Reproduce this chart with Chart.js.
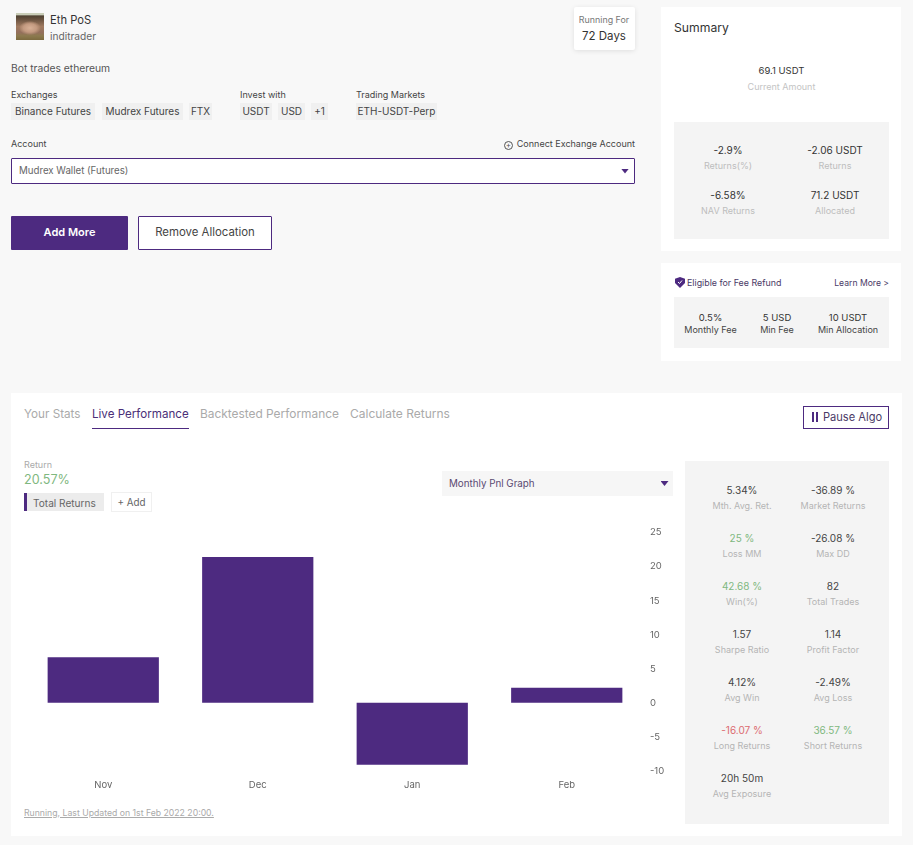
<!DOCTYPE html>
<html><head><meta charset="utf-8">
<script src="https://cdn.jsdelivr.net/npm/chart.js@4"></script>
<style>
html,body{margin:0;padding:0;background:#f8f8f8;width:913px;height:845px;overflow:hidden;font-family:Inter,"Open Sans",sans-serif;color:#333}
.b{position:absolute;box-sizing:border-box}
.t{position:absolute;white-space:nowrap;line-height:14px;height:14px}
canvas{position:absolute}
</style></head><body>
<div id="root"></div>
<canvas id="c" style="left:11px;top:515px;width:670px;height:285px"></canvas>
<script>
const months=["Nov","Dec","Jan","Feb"];
const monthlyPnl=[6.7,21.4,-9.1,2.2];
const yTicks=[25,20,15,10,5,0,-5,-10];
const PURPLE="#4d2a80",GREEN="#7fb87f",RED="#dc6b70";
const root=document.getElementById('root');
function box(x,y,w,h,css){const d=document.createElement('div');d.className='b';d.style.cssText=`left:${x}px;top:${y}px;width:${w}px;height:${h}px;${css||''}`;root.appendChild(d);return d}
function t(x,cy,s,size,color,align,extra){const d=document.createElement('div');d.className='t';d.textContent=s;
 const tr=align==='c'?'translateX(-50%)':align==='r'?'translateX(-100%)':'none';
 d.style.cssText=`left:${x}px;top:${cy-7}px;font-size:${size}px;color:${color||'#333'};transform:${tr};${extra||''}`;root.appendChild(d);return d}
function tri(cx,cy,w,h){box(cx-w/2,cy-h/2,w,h,`background:${PURPLE};clip-path:polygon(0 0,100% 0,50% 100%)`)}
// avatar
box(16,13,28,27,'background:radial-gradient(ellipse 11px 7px at 14px 15px,#d8b096 0,#c39a80 60%,rgba(160,120,95,0) 100%),linear-gradient(180deg,#c9cdb8 0,#c9cdb8 6%,#4f4232 11%,#6a5340 24%,#a07a60 50%,#94705c 72%,#8c7a4e 85%,#7c6a3f 100%)');
t(50,20,'Eth PoS',11.2,'#333');
t(50,35.5,'inditrader',10.2,'#666');
t(11,67.5,'Bot trades ethereum',10.3,'#555');
// running for
box(574,7,61,43,'background:#fff;box-shadow:0 1px 5px rgba(0,0,0,.1);border-radius:2px');
t(604,20,'Running For',8.9,'#777','c');
t(604,36,'72 Days',11.5,'#333','c');
// tags
t(11,95,'Exchanges',9,'#444');t(240,95,'Invest with',9,'#444');t(356,95,'Trading Markets',9,'#444');
[[11,84,'Binance Futures'],[102,81,'Mudrex Futures'],[189,23,'FTX'],[240,32,'USDT'],[278,27,'USD'],[311,17,'+1'],[356,81,'ETH-USDT-Perp']].forEach(a=>{
 box(a[0],103,a[1],17,'background:#f0f0f0');t(a[0]+a[1]/2,111,a[2],10,'#444','c')});
t(11,144,'Account',9,'#444');
t(635,144,'Connect Exchange Account',9,'#444','r');
const pl=box(504,140.5,9,9,'border:1px solid #555;border-radius:50%;font-size:8px;line-height:7px;text-align:center;color:#555');pl.textContent='+';
box(11,158,624,26,`background:#fff;border:1px solid ${PURPLE};border-radius:1px`);
t(19,170.5,'Mudrex Wallet (Futures)',9.7,'#666');
tri(625,171,8,5);
box(11,216,117,34,`background:${PURPLE};border-radius:1px`);
t(69.5,232,'Add More',11,'#fff','c','font-weight:600');
box(138,216,134,34,'background:#fff;border:1px solid '+PURPLE+';border-radius:1px');
t(205,232,'Remove Allocation',11.4,'#444','c');
// summary
box(661,7,240,244,'background:#fff');
t(674,28,'Summary',12.2,'#333');
t(781.5,71,'69.1 USDT',9.5,'#333','c');
t(781.5,87,'Current Amount',9,'#c4c4c4','c');
box(674,122,215,117,'background:#f4f4f4');
[[728,150,'-2.9%','Returns(%)'],[835,150,'-2.06 USDT','Returns'],[728,195,'-6.58%','NAV Returns'],[835,195,'71.2 USDT','Allocated']].forEach(a=>{
 t(a[0],a[1]-0.5,a[2],10,'#333','c');t(a[0],a[1]+16,a[3],9,'#bdbdbd','c')});
// fee
box(661,263,240,98,'background:#fff');
box(675,277,10,11,`background:${PURPLE};clip-path:polygon(50% 0,100% 15%,100% 55%,50% 100%,0 55%,0 15%)`);
const ck=box(677,279,6,6,'');ck.innerHTML='<svg width="6" height="6" viewBox="0 0 6 6" style="display:block"><path d="M1 3l1.5 1.5L5 1.5" fill="none" stroke="#fff" stroke-width="1"/></svg>';
t(687,283,'Eligible for Fee Refund',8.9,'#4a3a66');
t(889,283,'Learn More >',8.6,'#4a3a66','r');
box(674,297,215,51,'background:#f4f4f4');
[[710.5,'0.5%','Monthly Fee'],[777,'5 USD','Min Fee'],[848,'10 USDT','Min Allocation']].forEach(a=>{
 t(a[0],318,a[1],9.5,'#333','c');t(a[0],330,a[2],9,'#444','c')});
// bottom card
box(11,393,891,443,'background:#fff');
t(24,414,'Your Stats',11.7,'#aaa');
t(92,414,'Live Performance',11.6,'#4a2f78');
box(92,428,97,1,`background:${PURPLE}`);
t(200,414,'Backtested Performance',11.9,'#aaa');
t(350,414,'Calculate Returns',12,'#aaa');
box(803,406,86,23,`border:1px solid ${PURPLE}`);
box(812,412,2,10,`background:${PURPLE}`);box(816,412,2,10,`background:${PURPLE}`);
t(823,416.5,'Pause Algo',11.1,'#4a3a66');
t(24,465,'Return',9,'#aaa');
t(24,479.5,'20.57%',12.6,GREEN);
box(24,493,80,18,'background:#ececec');box(24,493,3,18,`background:${PURPLE}`);
t(33,502.5,'Total Returns',10.1,'#666');
box(111,492,41,20,'border:1px solid #f0f0f0');
t(131.5,502.5,'+ Add',9.8,'#666','c');
box(442,471,231,25,'background:#f6f6f6');
t(449,483.5,'Monthly Pnl Graph',9.8,'#5a4a72');
tri(664.5,483.5,8,5);
t(24,813,'Running, Last Updated on 1st Feb 2022 20:00.',8.7,'#aaa',null,'text-decoration:underline');
// stats
box(685,461,204,363,'background:#f4f4f4');
const stats=[[742,'5.34%','Mth. Avg. Ret.','#444'],[833,'-36.89 %','Market Returns','#444'],[742,'25 %','Loss MM',GREEN],[833,'-26.08 %','Max DD','#444'],[742,'42.68 %','Win(%)',GREEN],[833,'82','Total Trades','#444'],[742,'1.57','Sharpe Ratio','#444'],[833,'1.14','Profit Factor','#444'],[742,'4.12%','Avg Win','#444'],[833,'-2.49%','Avg Loss','#444'],[742,'-16.07 %','Long Returns',RED],[833,'36.57 %','Short Returns',GREEN],[742,'20h 50m','Avg Exposure','#444']];
stats.forEach((a,i)=>{const y=489.5+48*Math.floor(i/2);t(a[0],y,a[1],10,a[3],'c');t(a[0],y+16.5,a[2],9,'#b4b4b4','c')});

new Chart(document.getElementById('c'),{type:'bar',
 data:{labels:months,datasets:[{data:monthlyPnl,backgroundColor:PURPLE,borderWidth:0}]},
 options:{responsive:false,animation:false,devicePixelRatio:1,
  layout:{padding:{left:15,right:0,top:17.5,bottom:0}},
  plugins:{legend:{display:false},tooltip:{enabled:false}},
  scales:{
   x:{grid:{display:false,drawTicks:false},border:{display:false},ticks:{color:'#666',font:{family:'Inter',size:9.5},padding:8,maxRotation:0},
      afterFit(s){s.height=29}},
   y:{position:'right',min:-10,max:25,grid:{display:false,drawTicks:false},border:{display:false},
      afterBuildTicks(s){s.ticks=yTicks.map(v=>({value:v}))},
      afterFit(s){s.width=37},
      ticks:{color:'#666',font:{family:'Inter',size:9.5},padding:6}}
  }}});
</script>
</body></html>
